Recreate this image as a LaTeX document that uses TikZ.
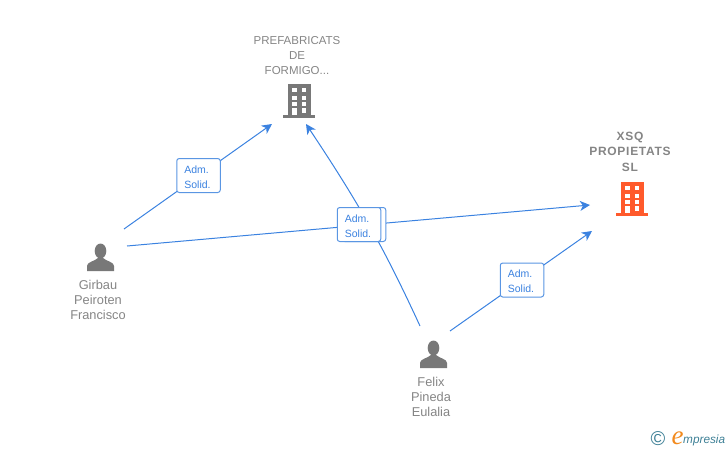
\documentclass[tikz,border=0pt]{standalone}
\usepackage{fontspec}
\setmainfont{Liberation Sans}
\newfontfamily\logofont{Liberation Serif}
\usetikzlibrary{arrows.meta}
\usetikzlibrary{positioning}
\definecolor{linkblue}{HTML}{3B82E0}
\definecolor{boxblue}{HTML}{5A96E3}
\definecolor{iconGrey}{HTML}{787878}
\definecolor{textGrey}{HTML}{858585}
\definecolor{xsqOrange}{HTML}{FF5A2C}
\definecolor{logoTeal}{HTML}{3E8096}
\definecolor{logoOrange}{HTML}{F28A1E}
\tikzstyle{link} = [draw=linkblue, line width=1pt]
\tikzstyle{arrow} = [link, -{Stealth[length=10pt,width=10pt,inset=3pt]}]
\tikzstyle{adm} = [draw=boxblue, fill=white, line width=1pt, rounded corners=2.5pt,
	minimum width=43.5pt, minimum height=34pt, inner sep=0pt, align=left,
	text=linkblue, font=\fontsize{10.5}{15}\selectfont]
\tikzstyle{icon} = [minimum size=30pt, inner sep=0pt]
\tikzstyle{caption} = [text=textGrey, align=center, inner sep=0pt,
	font=\fontsize{11.5}{15}\selectfont]
\tikzstyle{captionP} = [caption, font=\fontsize{12.8}{15}\selectfont]
\tikzstyle{captionB} = [caption, font=\fontsize{12}{15.5}\selectfont\bfseries\addfontfeatures{LetterSpace=6}]
\newcommand{\admsolid}{\rule{0pt}{10.5pt}Adm.\\Solid.\hspace*{2pt}}
\newcommand{\drawperson}[2]{\node (#1) [icon] at #2 {};
	\begin{scope}[shift={#2}]
	\fill[iconGrey] (0.5,-6) ellipse (5.8 and 7.5);
	\fill[iconGrey] (-13,14) -- (-13,9) .. controls (-13,5) and (-6,4.5) .. (-2,1)
		-- (3,1) .. controls (7,4.5) and (14,5) .. (14,9) -- (14,14) -- cycle;
	\end{scope}}
\newcommand{\drawoffice}[3]{\node (#1) [icon] at #2 {};
	\begin{scope}[shift={#2}]
	\fill[#3] (-11,-17) rectangle (12,14);
	\fill[#3] (-16,14) rectangle (16,17);
	\foreach \rowy in {-12.7,-5.5,1.3} {
		\fill[white] (-7,\rowy) rectangle ++(4.8,4);
		\fill[white] (2.5,\rowy) rectangle ++(4.8,4);
	}
	\fill[white] (-7,7.3) rectangle (-2.2,14);
	\fill[white] (2.5,7.3) rectangle (7.3,11.7);
	\end{scope}}
\begin{document}
\begin{tikzpicture}[x=1pt, y=-1pt]
	\useasboundingbox (0,0) rectangle (728,450);

	\drawoffice{prefab}{(299,101)}{iconGrey};
	\drawoffice{xsq}{(632,199)}{xsqOrange};
	\drawperson{girbau}{(100,257)};
	\drawperson{felix}{(433,354)};

	\node (prefabLbl) [caption, above=11pt of prefab, xshift=-2pt] {PREFABRICATS\\DE\\FORMIGO...};
	\node (xsqLbl) [captionB, above=12pt of xsq, xshift=-2pt] {XSQ\\PROPIETATS\\SL};
	\node (girbauLbl) [captionP, below=8pt of girbau, xshift=-2pt] {Girbau\\Peiroten\\Francisco};
	\node (felixLbl) [captionP, below=8pt of felix, xshift=-2pt] {Felix\\Pineda\\Eulalia};

	\coordinate (girbauTop) at (124,229);
	\coordinate (girbauEast) at (127,246);
	\coordinate (felixTop) at (420,326);
	\coordinate (felixEast) at (450,331);
	\coordinate (prefabWest) at (272,124);
	\coordinate (prefabSouth) at (306,124);
	\coordinate (xsqWest) at (590,205);
	\coordinate (xsqSouth) at (592,231);

	\draw [arrow] (girbauTop) -- (prefabWest);
	\draw [arrow] (girbauEast) -- (xsqWest);
	\draw [arrow] (felixTop) .. controls (385,250) and (360,205) .. (prefabSouth);
	\draw [arrow] (felixEast) -- (xsqSouth);

	\node (admGirbau) [adm] at (198.5,175.5) {\admsolid};
	\node (admBack) [adm] at (364,224.5) {};
	\node (admMid) [adm] at (359,224.5) {\admsolid};
	\node (admFelix) [adm] at (522,280) {\admsolid};

	\node (logoC) [text=logoTeal, inner sep=0pt, font=\fontsize{20}{20}\selectfont] at (658,438.5) {©};
	\node (logoE) [text=logoOrange, inner sep=0pt, font=\logofont\itshape\fontsize{27}{27}\selectfont] at (677.5,438) {e};
	\node (logoTxt) [text=logoTeal, inner sep=0pt, anchor=west, font=\itshape\fontsize{11.8}{14}\selectfont] at (683,440) {mpresia};
\end{tikzpicture}
\end{document}
